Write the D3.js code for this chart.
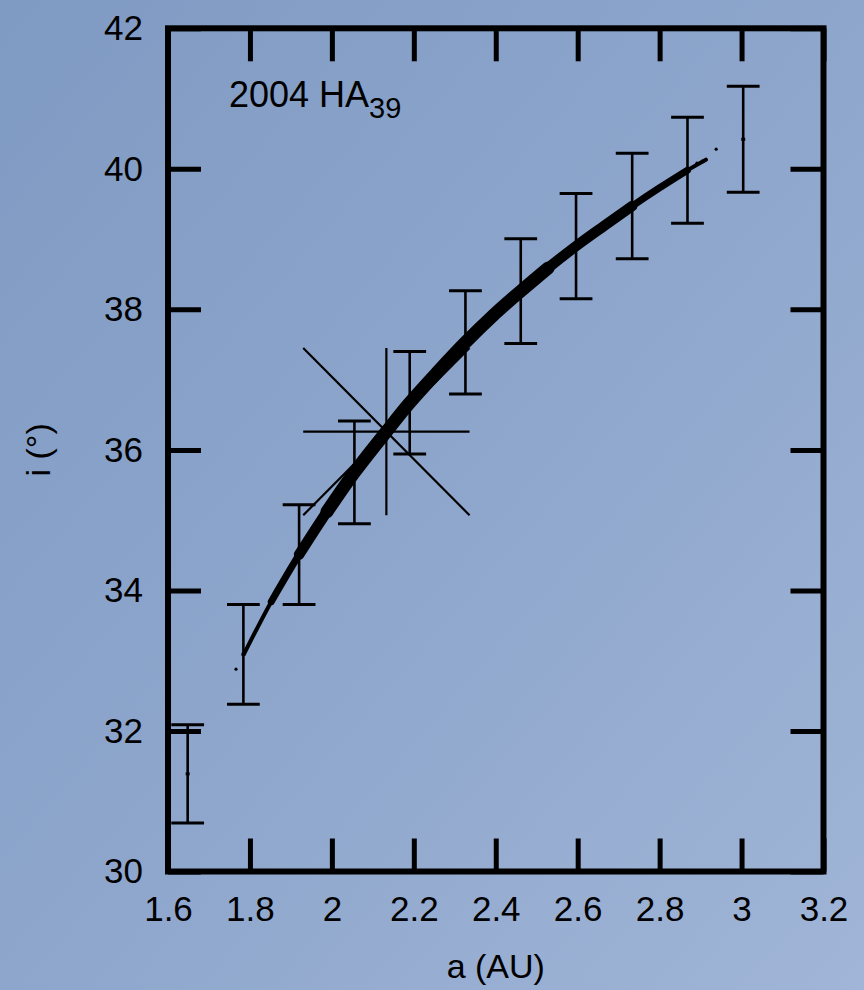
<!DOCTYPE html>
<html>
<head>
<meta charset="utf-8">
<script src="https://cdn.jsdelivr.net/npm/d3@7"></script>
<style>
  html, body { margin: 0; padding: 0; background: #8ea5cb; }
  svg { display: block; }
  text { font-family: "Liberation Sans", Arial, Helvetica, sans-serif; fill: #000; }
</style>
</head>
<body>
<div id="chart"></div>
<script>
// ---- data ----
const xTicks = [1.6, 1.8, 2.0, 2.2, 2.4, 2.6, 2.8, 3.0, 3.2];
const yTicks = [30, 32, 34, 36, 38, 40, 42];

// error bars: semi-major axis, centre inclination, half height
const barA   = [1.648, 1.784, 1.920, 2.055, 2.190, 2.326, 2.461, 2.596, 2.733, 2.868, 3.004];
const barI   = [31.39, 33.09, 34.51, 35.68, 36.67, 37.53, 38.26, 38.90, 39.47, 39.98, 40.42];
const barErr = [0.70, 0.71, 0.71, 0.73, 0.73, 0.735, 0.745, 0.75, 0.75, 0.755, 0.755];

// clone cloud (dense band), traced along its centre
const cloudA = [1.786, 1.852, 1.920, 1.988, 2.055, 2.133, 2.190, 2.258, 2.326,
                2.393, 2.461, 2.528, 2.596, 2.665, 2.733, 2.800, 2.868, 2.913];
const cloudI = [33.10, 33.84, 34.51, 35.12, 35.68, 36.26, 36.67, 37.11, 37.53,
                37.91, 38.26, 38.59, 38.90, 39.19, 39.47, 39.73, 39.98, 40.13];

// isolated clones off the ends of the band
const strayA = [1.766, 2.891, 2.904, 2.938];
const strayI = [32.88, 40.08, 40.11, 40.28];

// nominal orbit cross: centre and half extents
const crossA = 2.133, crossI = 36.26, crossDa = 0.203, crossDi = 1.19;

// ---- layout ----
const W = 864, H = 990;
const m = { left: 168, right: 823.5, top: 28.3, bottom: 871.5 };

const svg = d3.select('#chart').append('svg')
  .attr('width', W)
  .attr('height', H);

// bluish paper background
const defs = svg.append('defs');
const grad = defs.append('linearGradient')
  .attr('id', 'bg')
  .attr('x1', '0').attr('y1', '0')
  .attr('x2', '1').attr('y2', '1');
grad.append('stop').attr('offset', '0%').attr('stop-color', '#7f9ac3');
grad.append('stop').attr('offset', '50%').attr('stop-color', '#8ea6cc');
grad.append('stop').attr('offset', '100%').attr('stop-color', '#a0b5d7');
svg.append('rect')
  .attr('width', W).attr('height', H)
  .attr('fill', 'url(#bg)');

const x = d3.scaleLinear().domain([1.6, 3.2]).range([m.left, m.right]);
const y = d3.scaleLinear().domain([30, 42]).range([m.bottom, m.top]);

const tickLen = 33;

// axes: inward ticks on all four sides, labels on bottom and left
const gx = svg.append('g')
  .attr('transform', `translate(0,${m.bottom})`)
  .call(d3.axisBottom(x).tickValues(xTicks).tickSize(-tickLen).tickSizeOuter(0)
    .tickPadding(25).tickFormat(d3.format('~g')));
const gxt = svg.append('g')
  .attr('transform', `translate(0,${m.top})`)
  .call(d3.axisTop(x).tickValues(xTicks).tickSize(-tickLen).tickSizeOuter(0).tickFormat(''));
const gy = svg.append('g')
  .attr('transform', `translate(${m.left},0)`)
  .call(d3.axisLeft(y).tickValues(yTicks).tickSize(-tickLen).tickSizeOuter(0)
    .tickPadding(25).tickFormat(d3.format('~g')));
const gyr = svg.append('g')
  .attr('transform', `translate(${m.right},0)`)
  .call(d3.axisRight(y).tickValues(yTicks).tickSize(-tickLen).tickSizeOuter(0).tickFormat(''));

[gx, gxt, gy, gyr].forEach(g => {
  g.select('.domain').remove();
  g.selectAll('.tick line').attr('stroke', '#000').attr('stroke-width', 5);
  g.selectAll('.tick text')
    .style('font-family', '"Liberation Sans", Arial, sans-serif')
    .style('font-size', '35px')
    .attr('fill', '#000');
});

// frame
svg.append('rect')
  .attr('x', m.left).attr('y', m.top)
  .attr('width', m.right - m.left).attr('height', m.bottom - m.top)
  .attr('fill', 'none')
  .attr('stroke', '#000')
  .attr('stroke-width', 6);

const plot = svg.append('g');

// nominal cross (drawn below the clone band)
const cross = [
  [crossA - crossDa, crossI, crossA + crossDa, crossI],
  [crossA, crossI + crossDi, crossA, crossI - crossDi],
  [crossA - crossDa, crossI + crossDi, crossA + crossDa, crossI - crossDi],
  [crossA - crossDa, crossI - crossDi, crossA + crossDa, crossI + crossDi]
];
plot.selectAll('line.cross')
  .data(cross)
  .enter().append('line')
  .attr('class', 'cross')
  .attr('x1', d => x(d[0])).attr('y1', d => y(d[1]))
  .attr('x2', d => x(d[2])).attr('y2', d => y(d[3]))
  .attr('stroke', '#000')
  .attr('stroke-width', 2.2);

// error bars
const bars = barA.map((a, k) => ({ a, i: barI[k], e: barErr[k] }));
const capHalf = 0.04;
const eb = plot.selectAll('g.bar').data(bars).enter().append('g').attr('class', 'bar');
eb.append('line')
  .attr('x1', d => x(d.a)).attr('x2', d => x(d.a))
  .attr('y1', d => y(d.i - d.e)).attr('y2', d => y(d.i + d.e))
  .attr('stroke', '#000').attr('stroke-width', 2.6);
eb.append('line')
  .attr('x1', d => x(d.a - capHalf)).attr('x2', d => x(d.a + capHalf))
  .attr('y1', d => y(d.i + d.e)).attr('y2', d => y(d.i + d.e))
  .attr('stroke', '#000').attr('stroke-width', 3);
eb.append('line')
  .attr('x1', d => x(d.a - capHalf)).attr('x2', d => x(d.a + capHalf))
  .attr('y1', d => y(d.i - d.e)).attr('y2', d => y(d.i - d.e))
  .attr('stroke', '#000').attr('stroke-width', 3);
eb.append('rect')
  .attr('x', d => x(d.a) - 2).attr('y', d => y(d.i) - 1.5)
  .attr('width', 4).attr('height', 3)
  .attr('fill', '#000');

// clone band: stacked strokes, thick in the middle and thinning at both ends
const cloud = cloudA.map((a, k) => ({ a, i: cloudI[k] }));
const band = d3.line()
  .x(d => x(d.a))
  .y(d => y(d.i))
  .curve(d3.curveCatmullRom);
const layers = [
  { from: 1.78, to: 2.92, w: 4 },
  { from: 1.84, to: 2.87, w: 7 },
  { from: 1.91, to: 2.74, w: 10.5 },
  { from: 1.98, to: 2.54, w: 13 }
];
plot.selectAll('path.band')
  .data(layers)
  .enter().append('path')
  .attr('class', 'band')
  .attr('d', L => band(cloud.filter(d => d.a >= L.from && d.a <= L.to)))
  .attr('fill', 'none')
  .attr('stroke', '#000')
  .attr('stroke-linecap', 'round')
  .attr('stroke-linejoin', 'round')
  .attr('stroke-width', L => L.w);

plot.selectAll('circle.stray')
  .data(strayA.map((a, k) => ({ a, i: strayI[k] })))
  .enter().append('circle')
  .attr('class', 'stray')
  .attr('cx', d => x(d.a)).attr('cy', d => y(d.i))
  .attr('r', 1.6)
  .attr('fill', '#000');

// object label with subscript
const lab = svg.append('text')
  .attr('x', 229).attr('y', 107)
  .style('font-size', '36px');
lab.append('tspan').text('2004 HA');
lab.append('tspan').attr('dy', 11).style('font-size', '29px').text('39');

// axis titles
svg.append('text')
  .attr('x', (m.left + m.right) / 2).attr('y', 978)
  .attr('text-anchor', 'middle')
  .style('font-size', '34px')
  .text('a (AU)');
svg.append('text')
  .attr('transform', `translate(50,${(m.top + m.bottom) / 2}) rotate(-90)`)
  .attr('text-anchor', 'middle')
  .style('font-size', '34px')
  .text('i (°)');
</script>
</body>
</html>
